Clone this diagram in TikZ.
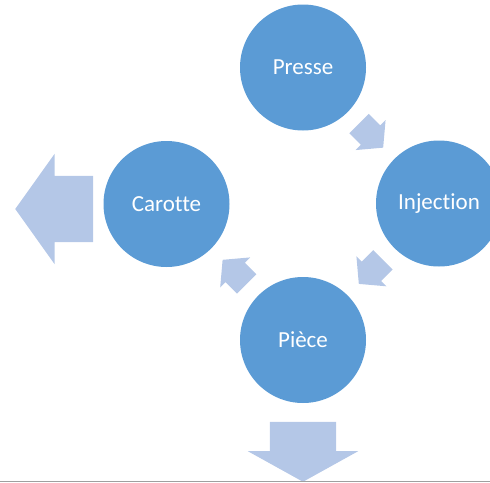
\documentclass[tikz,border=0pt]{standalone}
\usepackage{fontspec}
\setmainfont{Carlito}[Ligatures=NoCommon]
\usetikzlibrary{shapes.arrows,calc}
\definecolor{stageblue}{HTML}{5B9BD5}
\definecolor{arrowblue}{HTML}{B4C7E7}

\begin{document}
\begin{tikzpicture}
		% We need to define the drawing style
		[x=1pt, y=-1pt,
		stage/.style={circle, fill=stageblue, text=white, minimum size=126pt, inner sep=0pt, font=\fontsize{23}{28}\selectfont},
		flow/.style={single arrow, fill=arrowblue, inner xsep=0pt, inner ysep=13.5pt, minimum height=34pt, single arrow head extend=7.5pt, single arrow tip angle=100, anchor=tail},
		exit/.style={single arrow, fill=arrowblue, inner xsep=0pt, inner ysep=33pt, single arrow head extend=22pt, anchor=tip}]
	
		\useasboundingbox (0,0) rectangle (490,482);
		\clip (0,0) rectangle (490,482);
		
		% First the four stages of the cycle
		\node[stage] (presse) at (303,67.5) {Presse};
		\node[stage] (injection) at (439,203.5) {Injection};
		\node[stage] (piece) at (303,340) {Pièce};
		\node[stage] (carotte) at (166.5,204) {Carotte};
		
		% Small arrows half way between the stages
		\node[flow, rotate=-45] (presse-injection) at ($(presse)!0.5!(injection)!17pt!(presse)$) {};
		\node[flow, rotate=-135] (injection-piece) at ($(injection)!0.5!(piece)!17pt!(injection)$) {};
		\node[flow, rotate=135] (piece-carotte) at ($(piece)!0.5!(carotte)!17pt!(piece)$) {};
		
		% Now the big arrows going out
		\node[exit, rotate=180, minimum height=78pt, single arrow tip angle=109] (carotte-out) at (15,209) {};
		\node[exit, rotate=-90, minimum height=60pt, single arrow tip angle=122] (piece-out) at (303,482) {};
		
		% Finally the grey edge at the bottom
		\draw[gray!75, line width=1pt] (0,481.5) -- (490,481.5);
	\end{tikzpicture}
\end{document}
